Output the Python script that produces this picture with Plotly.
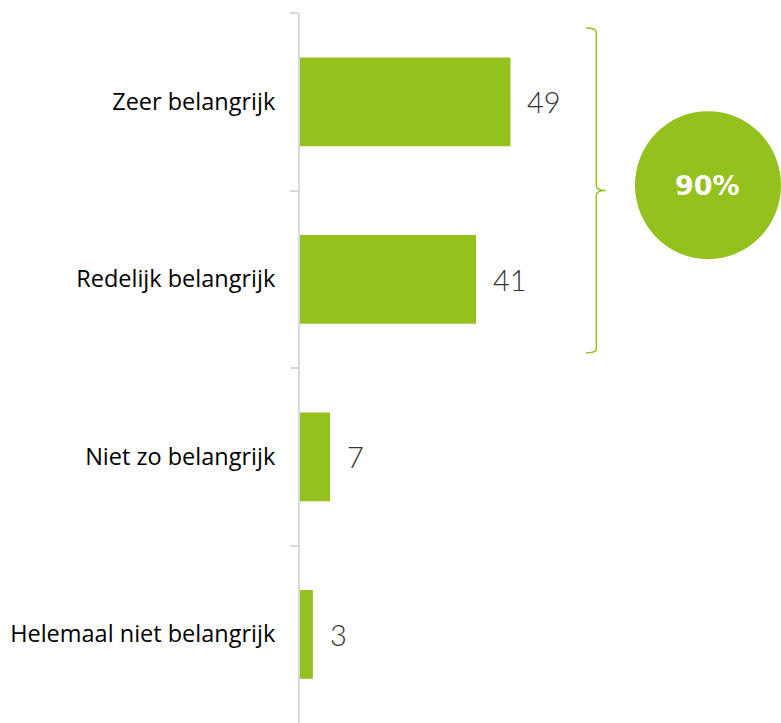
import plotly.graph_objects as go

categories = ["Zeer belangrijk", "Redelijk belangrijk", "Niet zo belangrijk", "Helemaal niet belangrijk"]
values = [49, 41, 7, 3]
total_label = "90%"

GREEN = "#95c11f"

fig = go.Figure()
fig.add_trace(go.Bar(
    x=values, y=categories, orientation="h",
    marker=dict(color=GREEN, line=dict(width=0)),
    width=0.5, hoverinfo="skip",
))

annotations = []
for c, v in zip(categories, values):
    annotations.append(dict(
        x=v, y=c, xref="x", yref="y", text=str(v), showarrow=False,
        xanchor="left", yanchor="middle", xshift=15,
        font=dict(family="Lato", size=29, color="#333333", weight=300),
    ))
annotations.append(dict(
    x=95.0, y=0.47, xref="x", yref="y", text="<b>" + total_label + "</b>", showarrow=False,
    xanchor="center", yanchor="middle",
    font=dict(family="DejaVu Sans", size=27, color="white"),
))

shapes = [
    dict(type="circle", xref="x", yref="y", xsizemode="pixel", ysizemode="pixel",
         xanchor=95.0, yanchor=0.47, x0=-73, x1=73, y0=-74, y1=74,
         fillcolor=GREEN, line=dict(width=0), layer="above"),
    dict(type="path", xref="x", yref="y",
         path="M 66.6,-0.415 Q 69,-0.415 69,-0.39 L 69,0.475 Q 69,0.5 71.2,0.5 "
              "Q 69,0.5 69,0.525 L 69,1.39 Q 69,1.415 66.6,1.415",
         line=dict(color=GREEN, width=1.5)),
]

fig.update_layout(
    width=781, height=723,
    margin=dict(l=300, r=0, t=13, b=0),
    paper_bgcolor="white", plot_bgcolor="white",
    showlegend=False, bargap=0.5,
    xaxis=dict(range=[0, 112], visible=False, fixedrange=True),
    yaxis=dict(
        type="category", categoryorder="array", categoryarray=categories,
        autorange="reversed", tickson="boundaries",
        ticks="outside", ticklen=8, tickcolor="#d9d9d9", tickwidth=2,
        showline=True, linecolor="#d9d9d9", linewidth=2,
        showgrid=False, zeroline=False, fixedrange=True,
        tickfont=dict(family="Open Sans", size=23.5, color="#000000"),
        ticklabelstandoff=18,
    ),
    annotations=annotations, shapes=shapes,
)

fig.write_html(
    "out.html",
    config={"displayModeBar": False, "staticPlot": True},
    post_script="document.body.style.margin='0';document.body.style.overflow='hidden';",
)
